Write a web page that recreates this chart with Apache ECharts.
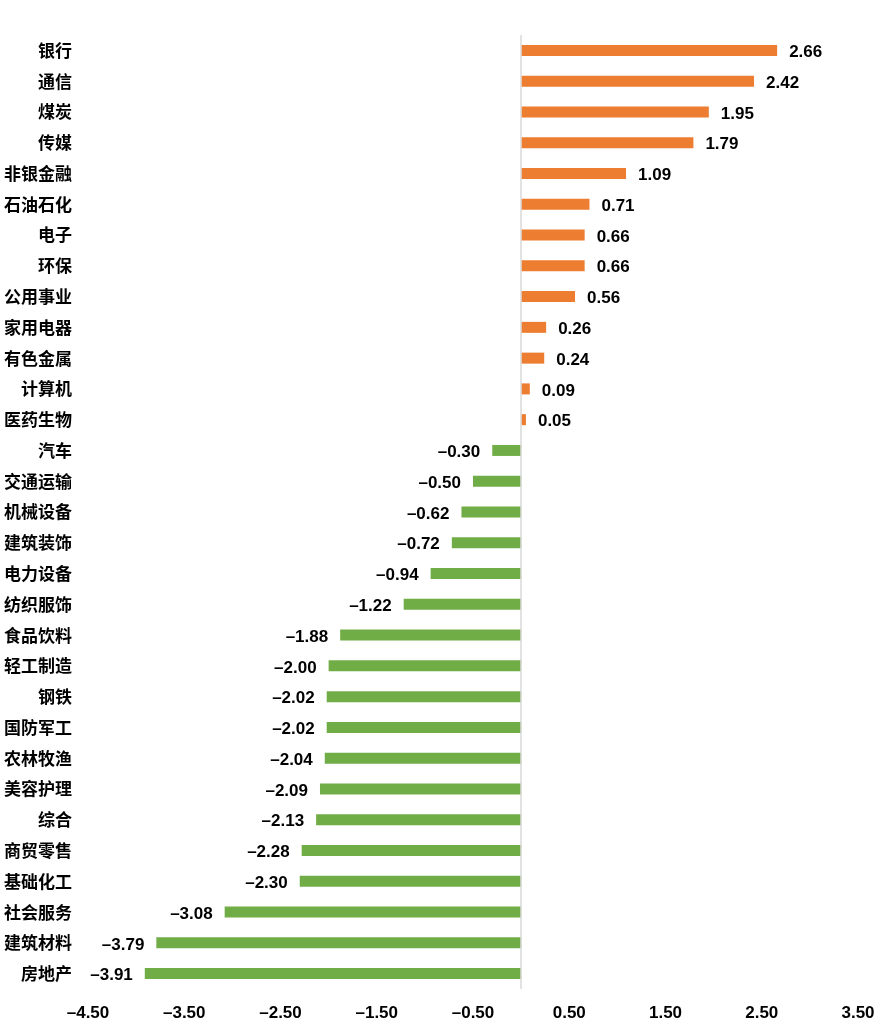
<!DOCTYPE html>
<html>
<head>
<meta charset="utf-8">
<script src="https://cdn.jsdelivr.net/npm/echarts@6/dist/echarts.min.js"></script>
<style>
  html, body { margin: 0; padding: 0; background: #fff; }
  #chart { width: 885px; height: 1022px; }
</style>
</head>
<body>
<div id="chart"></div>
<script>
// 行业名称（自上而下）
var categories = ['银行', '通信', '煤炭', '传媒', '非银金融', '石油石化', '电子', '环保', '公用事业', '家用电器',
    '有色金属', '计算机', '医药生物', '汽车', '交通运输', '机械设备', '建筑装饰', '电力设备', '纺织服饰', '食品饮料',
    '轻工制造', '钢铁', '国防军工', '农林牧渔', '美容护理', '综合', '商贸零售', '基础化工', '社会服务', '建筑材料', '房地产'];
// 涨跌幅（%）
var values = [2.66, 2.42, 1.95, 1.79, 1.09, 0.71, 0.66, 0.66, 0.56, 0.26,
    0.24, 0.09, 0.05, -0.30, -0.50, -0.62, -0.72, -0.94, -1.22, -1.88,
    -2.00, -2.02, -2.02, -2.04, -2.09, -2.13, -2.28, -2.30, -3.08, -3.79, -3.91];

var upColor = '#ED7D31';
var downColor = '#70AD47';

function fmt(v) {
    return (v < 0 ? '\u2013' : '') + Math.abs(v).toFixed(2);
}

var myChart = echarts.init(document.getElementById('chart'));

var seriesData = values.map(function (v) {
    return {
        value: v,
        itemStyle: { color: v >= 0 ? upColor : downColor },
        label: { position: v >= 0 ? 'right' : 'left' }
    };
});

var option = {
    backgroundColor: '#fff',
    animation: false,
    grid: {
        left: 88,
        right: 27,
        top: 35,
        bottom: 33
    },
    xAxis: {
        type: 'value',
        min: -4.5,
        max: 3.5,
        interval: 1,
        axisLine: { show: false },
        axisTick: { show: false },
        splitLine: { show: false },
        axisLabel: {
            margin: 16,
            color: '#000',
            fontSize: 17,
            fontWeight: 'bold',
            fontFamily: '"Liberation Sans", Arial, sans-serif',
            formatter: fmt
        }
    },
    yAxis: {
        type: 'category',
        inverse: true,
        data: categories,
        axisLine: { show: false },
        axisTick: { show: false },
        splitLine: { show: false },
        axisLabel: {
            margin: 16,
            color: '#000',
            fontSize: 17,
            fontWeight: 'bold',
            fontFamily: '"Noto Sans CJK SC", sans-serif'
        }
    },
    series: [{
        type: 'bar',
        data: seriesData,
        barWidth: 11,
        label: {
            show: true,
            distance: 12,
            offset: [0, 2],
            color: '#000',
            fontSize: 17,
            fontWeight: 'bold',
            fontFamily: '"Liberation Sans", Arial, sans-serif',
            formatter: function (p) { return fmt(p.value); }
        },
        markLine: {
            silent: true,
            symbol: 'none',
            label: { show: false },
            lineStyle: { color: '#d9d9d9', width: 1.5, type: 'solid' },
            data: [{ xAxis: 0 }]
        }
    }]
};

myChart.setOption(option);
</script>
</body>
</html>
